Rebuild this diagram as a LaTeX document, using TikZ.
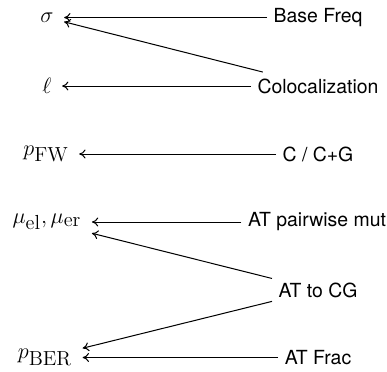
\documentclass[tikz,border=0pt]{standalone}
\usepackage{fontspec}
\usetikzlibrary{arrows.meta}
\newfontfamily\labelfont{TeX Gyre Heros}
\DeclareMathSizes{13}{13}{11}{8}
\begin{document}
\begin{tikzpicture}[x=0.5405pt,y=-0.5405pt,
  src/.style={font=\labelfont\fontsize{10.5}{12}\selectfont},
  tgt/.style={font=\fontsize{13}{15}\selectfont, inner xsep=5.5pt},
  dep/.style={-{To[length=3.4pt,width=4.8pt]},line width=0.55pt}]
\useasboundingbox (0,0) rectangle (387,371);
\node[tgt] (sigma) at (47,17.5) {$\sigma$};
\node[tgt] (ell) at (47,86) {$\ell$};
\node[tgt] (pfw) at (46,154) {$p_{\mathrm{FW}}$};
\node[tgt] (mu) at (47,222) {$\mu_{\mathrm{el}},\mu_{\mathrm{er}}$};
\node[tgt] (pber) at (45,357.5) {$p_{\mathrm{BER}}$};
\node[src] (base) at (318,17.5) {Base Freq};
\node[src] (coloc) at (318,86) {Colocalization};
\node[src] (ccg) at (318,154) {C / C+G};
\node[src] (atpair) at (317,222) {AT pairwise mut};
\node[src] (attocg) at (318,290) {AT to CG};
\node[src] (atfrac) at (318,357.5) {AT Frac};
\draw[dep] (base) -- (sigma);
\draw[dep] (coloc) -- (sigma);
\draw[dep] (coloc) -- (ell);
\draw[dep] (ccg) -- (pfw);
\draw[dep] (atpair) -- (mu);
\draw[dep] (attocg) -- (mu);
\draw[dep] (attocg) -- (pber);
\draw[dep] (atfrac) -- (pber);
\end{tikzpicture}
\end{document}
